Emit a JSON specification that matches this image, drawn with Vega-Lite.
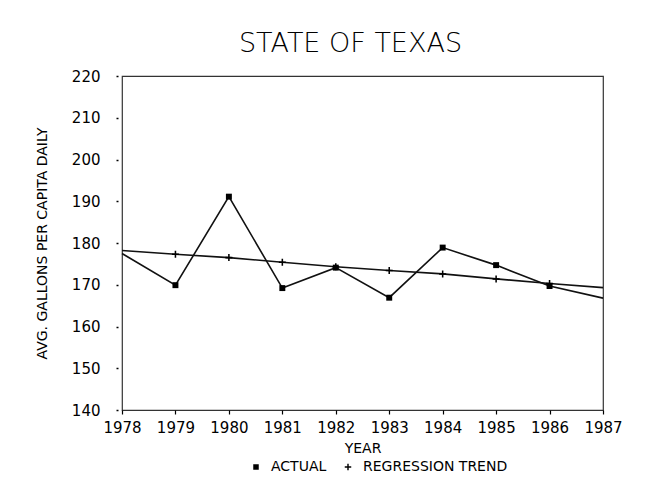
{
  "$schema": "https://vega.github.io/schema/vega-lite/v6.json",
  "autosize": "none",
  "width": 481,
  "height": 334,
  "padding": {"left": 122, "top": 76, "right": 46, "bottom": 93},
  "background": "white",
  "title": {
    "text": "STATE OF TEXAS",
    "font": "DejaVu Sans",
    "fontSize": 27,
    "fontWeight": 200,
    "color": "black",
    "anchor": "middle",
    "dx": -12,
    "offset": 11
  },
  "data": {
    "values": [
      {"year": 1978, "value": 177.5, "series": "ACTUAL"},
      {"year": 1979, "value": 169.9, "series": "ACTUAL"},
      {"year": 1980, "value": 191.1, "series": "ACTUAL"},
      {"year": 1981, "value": 169.2, "series": "ACTUAL"},
      {"year": 1982, "value": 174.1, "series": "ACTUAL"},
      {"year": 1983, "value": 166.9, "series": "ACTUAL"},
      {"year": 1984, "value": 178.9, "series": "ACTUAL"},
      {"year": 1985, "value": 174.7, "series": "ACTUAL"},
      {"year": 1986, "value": 169.7, "series": "ACTUAL"},
      {"year": 1987, "value": 166.8, "series": "ACTUAL"},
      {"year": 1978, "value": 178.2, "series": "REGRESSION TREND"},
      {"year": 1979, "value": 177.3, "series": "REGRESSION TREND"},
      {"year": 1980, "value": 176.5, "series": "REGRESSION TREND"},
      {"year": 1981, "value": 175.4, "series": "REGRESSION TREND"},
      {"year": 1982, "value": 174.3, "series": "REGRESSION TREND"},
      {"year": 1983, "value": 173.4, "series": "REGRESSION TREND"},
      {"year": 1984, "value": 172.6, "series": "REGRESSION TREND"},
      {"year": 1985, "value": 171.4, "series": "REGRESSION TREND"},
      {"year": 1986, "value": 170.3, "series": "REGRESSION TREND"},
      {"year": 1987, "value": 169.3, "series": "REGRESSION TREND"}
    ]
  },
  "encoding": {
    "x": {
      "field": "year",
      "type": "quantitative",
      "scale": {"domain": [1978, 1987], "nice": false, "zero": false},
      "axis": {
        "title": "YEAR",
        "values": [1978, 1979, 1980, 1981, 1982, 1983, 1984, 1985, 1986, 1987],
        "format": "d",
        "domain": false,
        "grid": false,
        "tickSize": 4,
        "tickColor": "black",
        "tickWidth": 1.2,
        "labelPadding": 6,
        "titlePadding": 6,
        "labelFlush": false
      }
    },
    "y": {
      "field": "value",
      "type": "quantitative",
      "scale": {"domain": [140, 220], "nice": false, "zero": false},
      "axis": {
        "title": "AVG. GALLONS PER CAPITA DAILY",
        "values": [140, 150, 160, 170, 180, 190, 200, 210, 220],
        "domain": false,
        "grid": false,
        "offset": 4,
        "tickSize": 2,
        "tickColor": "black",
        "tickWidth": 1.5,
        "labelPadding": 16,
        "titlePadding": 22
      }
    }
  },
  "layer": [
    {
      "mark": {"type": "line", "color": "#111", "strokeWidth": 1.6},
      "encoding": {"detail": {"field": "series"}}
    },
    {
      "transform": [{"filter": "datum.year > 1978 && datum.year < 1987"}],
      "mark": {"type": "point", "filled": true, "color": "black", "opacity": 1, "size": 49},
      "encoding": {
        "shape": {
          "field": "series",
          "type": "nominal",
          "scale": {
            "domain": ["ACTUAL", "REGRESSION TREND"],
            "range": [
              "M-0.85,-0.85L0.85,-0.85L0.85,0.85L-0.85,0.85Z",
              "M-1,-0.22L-0.22,-0.22L-0.22,-1L0.22,-1L0.22,-0.22L1,-0.22L1,0.22L0.22,0.22L0.22,1L-0.22,1L-0.22,0.22L-1,0.22Z"
            ]
          },
          "legend": {
            "orient": "none",
            "legendX": 127,
            "legendY": 384,
            "direction": "horizontal",
            "title": null,
            "symbolFillColor": "black",
            "symbolSize": 42,
            "symbolOpacity": 1,
            "labelFont": "DejaVu Sans",
            "labelFontSize": 14,
            "labelColor": "black",
            "labelOffset": 8,
            "columnPadding": 14
          }
        }
      }
    }
  ],
  "config": {
    "view": {"stroke": "#333", "strokeWidth": 1.2},
    "axis": {
      "labelFont": "DejaVu Sans",
      "labelFontSize": 15,
      "labelColor": "black",
      "titleFont": "DejaVu Sans",
      "titleFontSize": 14,
      "titleFontWeight": "normal",
      "titleColor": "black"
    }
  }
}
